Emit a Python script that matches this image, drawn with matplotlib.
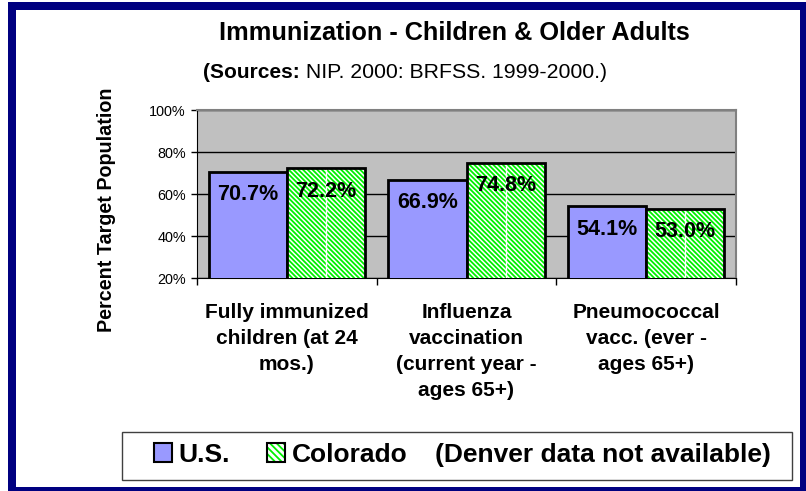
import numpy as np
import matplotlib
matplotlib.use("Agg")
import matplotlib.pyplot as plt
from matplotlib.patches import Rectangle, Patch

plt.rcParams["font.family"] = ["Liberation Sans", "DejaVu Sans"]
plt.rcParams["hatch.linewidth"] = 1.3

categories = [
    "Fully immunized\nchildren (at 24\nmos.)",
    "Influenza\nvaccination\n(current year -\nages 65+)",
    "Pneumococcal\nvacc. (ever -\nages 65+)",
]
us = [70.7, 66.9, 54.1]
colorado = [72.2, 74.8, 53.0]
series_names = ["U.S.", "Colorado"]
yticks = [20, 40, 60, 80, 100]

W, H = 806, 491
fig = plt.figure(figsize=(W / 100, H / 100), dpi=100)
fig.patch.set_facecolor("white")

# navy frame
fig.patches.append(Rectangle((8 / W, 0), 1 - 8 / W, (H - 2) / H, transform=fig.transFigure,
                             facecolor="#000080", edgecolor="none", zorder=-10))
fig.patches.append(Rectangle((16 / W, 1 - 487 / H), (800 - 16) / W, (487 - 10) / H,
                             transform=fig.transFigure, facecolor="white", edgecolor="none", zorder=-9))

ax = fig.add_axes([197 / W, 1 - 278 / H, (736 - 197) / W, 168 / H])
ax.set_facecolor("#C0C0C0")

green = "#00F000"
hatch = "\\" * 7
x = np.arange(len(categories))
w = 0.435
ax.bar(x - w / 2, us, w, color="#9999FF", edgecolor="black", linewidth=2, zorder=3)
ax.bar(x + w / 2, colorado, w, color="white", edgecolor=green, hatch=hatch,
       linewidth=0, zorder=3)
ax.vlines(x + w / 2, 20, colorado, color="white", linewidth=1, zorder=3.5)
ax.bar(x + w / 2, colorado, w, fill=False, edgecolor="black", linewidth=2, zorder=4)

for xs, vals in ((x - w / 2, us), (x + w / 2, colorado)):
    for xi, v in zip(xs, vals):
        ax.annotate(f"{v:.1f}%", (xi, v), xytext=(0, -23), textcoords="offset pixels",
                    ha="center", va="center", fontsize=15.5, fontweight="bold", zorder=5)

ax.set_ylim(20, 100)
ax.set_xlim(-0.5, len(categories) - 0.5)
ax.set_yticks(yticks, [f"{t}%" for t in yticks])
ax.yaxis.grid(True, color="black", linewidth=1)
ax.set_axisbelow(True)
ax.tick_params(axis="y", length=4, width=1, pad=4, labelsize=10.4, direction="out")

ax.set_xticks(x, categories)
ax.set_xticks(np.arange(len(categories) + 1) - 0.5, minor=True)
ax.tick_params(axis="x", which="major", length=0, pad=18, labelsize=15)
ax.tick_params(axis="x", which="minor", length=5, width=1, direction="out")
for lab in ax.get_xticklabels():
    lab.set_fontweight("bold")
    lab.set_linespacing(1.47)
    lab.set_verticalalignment("top")

for side in ("left", "bottom"):
    ax.spines[side].set_color("black")
for side in ("top", "right"):
    ax.spines[side].set_color("#808080")
    ax.spines[side].set_linewidth(1.5)

ax.set_ylabel("Percent Target Population", fontsize=14.2, fontweight="bold")
ax.yaxis.set_label_coords(116 / W, 1 - 210 / H, transform=fig.transFigure)

fig.text(454 / W, 1 - 33 / H, "Immunization - Children & Older Adults", ha="center", va="center",
         fontsize=18.2, fontweight="bold")
src_bold = fig.text(203 / W, 1 - 73 / H, "(Sources:", ha="left", va="center",
                    fontsize=15, fontweight="bold")
r = fig.canvas.get_renderer()
bb = src_bold.get_window_extent(r)
fig.text(bb.x1 / W, 1 - 73 / H, " NIP. 2000: BRFSS. 1999-2000.)", ha="left", va="center", fontsize=15.3)

# legend box
fig.patches.append(Rectangle((122 / W, 1 - 480 / H), 670 / W, 48 / H, transform=fig.transFigure,
                             facecolor="white", edgecolor="#404040", linewidth=1, zorder=1))
handles = [Patch(facecolor="#9999FF", edgecolor="black", linewidth=1.5),
           (Patch(facecolor="white", edgecolor=green, hatch="\\" * 5, linewidth=0),
            Patch(fill=False, edgecolor="black", linewidth=1.5))]
leg = fig.legend(handles, series_names, loc="center left", bbox_to_anchor=(141 / W, 1 - 455 / H),
                 ncol=2, frameon=False, borderpad=0, handlelength=0.68, handleheight=0.75,
                 handletextpad=0.23, columnspacing=1.43,
                 prop={"size": 19, "weight": "bold"})
fig.text(435 / W, 1 - 455 / H, "(Denver data not available)", ha="left", va="center",
         fontsize=19, fontweight="bold")

fig.savefig("out.png", dpi=100)
